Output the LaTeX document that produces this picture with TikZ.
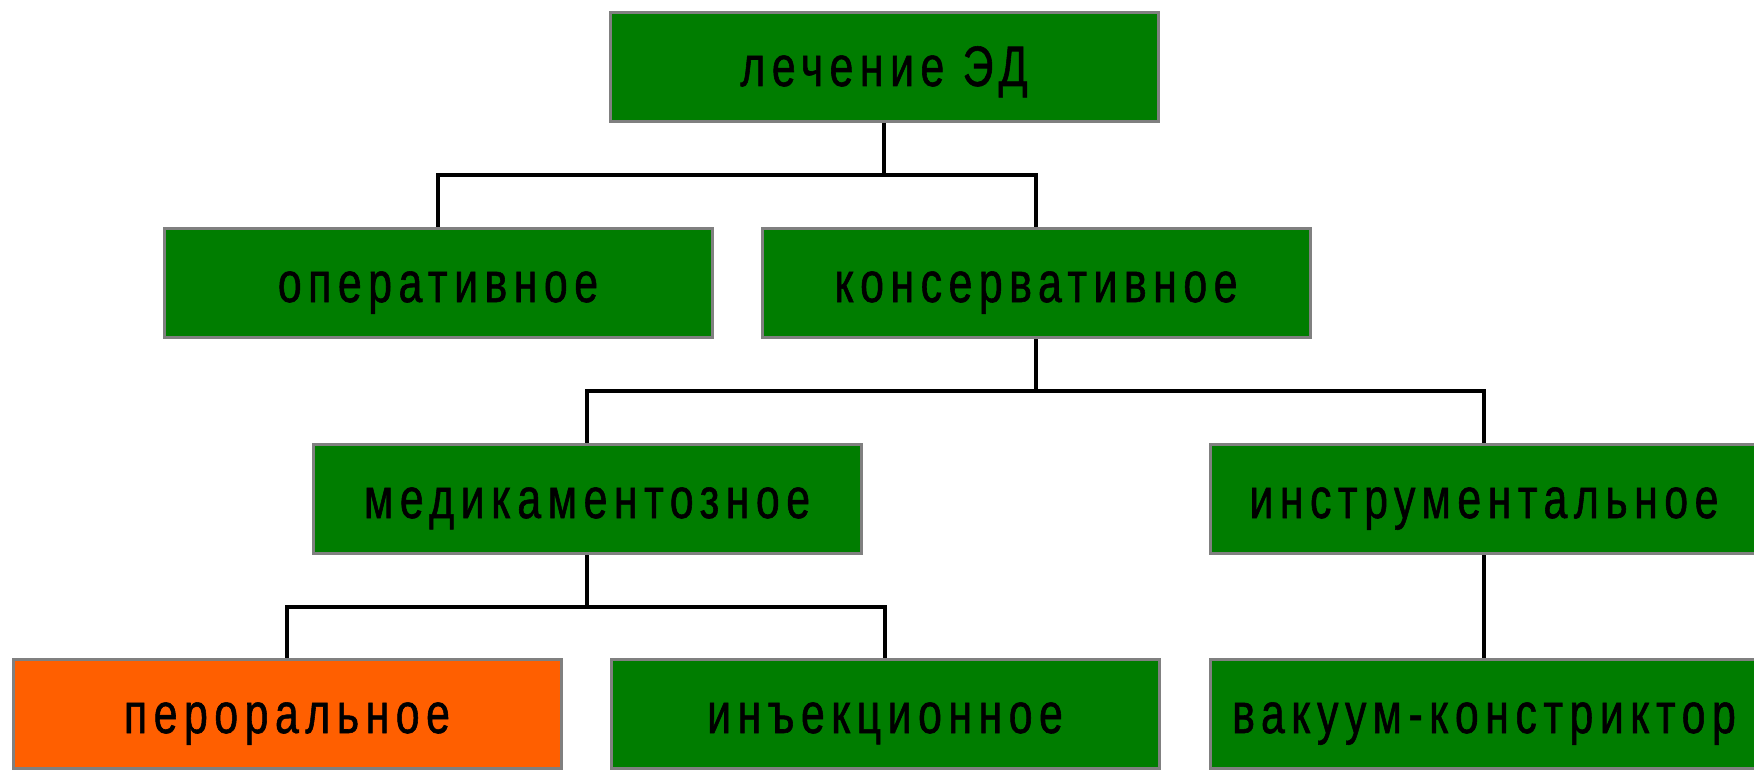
\documentclass[tikz,border=0pt]{standalone}
\usepackage{fontspec}
\newfontfamily\boxfont[FakeStretch=0.75,LetterSpace=11.5,FakeBold=1]{Liberation Sans}
\definecolor{boxgreen}{RGB}{0,125,0}
\definecolor{boxorange}{RGB}{255,95,0}
\definecolor{boxedge}{RGB}{128,128,128}
\tikzset{
  box/.style={draw=boxedge, line width=3pt, fill=boxgreen, minimum width=548pt, minimum height=109pt,
    inner sep=0pt, text height=47pt, text depth=9pt, font=\boxfont\fontsize{57pt}{62pt}\selectfont, text=black},
  hot/.style={fill=boxorange},
  conn/.style={draw=black, line width=3.5pt}
}
\begin{document}
\begin{tikzpicture}[x=1pt,y=-1pt]
\useasboundingbox (0,0) rectangle (1754,770);
\node[box] (top) at (884,67) {лечение ЭД};
\node[box] (op) at (438,283) {оперативное};
\node[box] (cons) at (1036,283) {консервативное};
\node[box] (med) at (587,499) {медикаментозное};
\node[box] (instr) at (1484,499) {инструментальное};
\node[box,hot] (per) at (287,714) {пероральное};
\node[box] (inj) at (885,714) {инъекционное};
\node[box] (vac) at (1484,714) {вакуум-констриктор};
\draw[conn] (top.south) -- ++(0,52) -| (op.north);
\draw[conn] (top.south) -- ++(0,52) -| (cons.north);
\draw[conn] (cons.south) -- ++(0,52) -| (med.north);
\draw[conn] (cons.south) -- ++(0,52) -| (instr.north);
\draw[conn] (med.south) -- ++(0,52) -| (per.north);
\draw[conn] (med.south) -- ++(0,52) -| (inj.north);
\draw[conn] (instr.south) -- (vac.north);
\end{tikzpicture}
\end{document}
